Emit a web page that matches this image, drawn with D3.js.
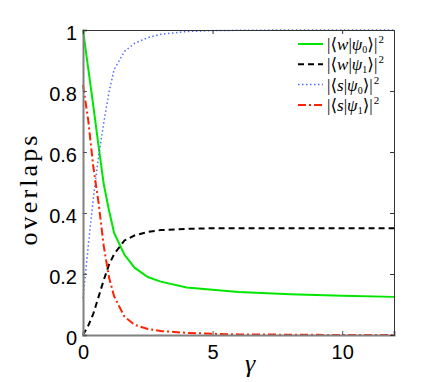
<!DOCTYPE html>
<html>
<head>
<meta charset="utf-8">
<script src="https://cdn.jsdelivr.net/npm/d3@7"></script>
<style>
  body { margin: 0; background: #fff; }
  svg { display: block; }
</style>
</head>
<body>
<script>
const WIDTH = 436;
const HEIGHT = 382;

// values
const gamma = [0, 0.2, 0.4, 0.6, 0.8, 1.0, 1.2, 1.6, 2.0, 2.5, 3, 4, 5, 6, 8, 10, 12];
const wPsi0 = [1, 0.875, 0.75, 0.62, 0.495, 0.41, 0.335, 0.263, 0.22, 0.19, 0.175, 0.156, 0.148, 0.141, 0.134, 0.129, 0.125];
const wPsi1 = [0, 0.03, 0.07, 0.125, 0.18, 0.23, 0.265, 0.31, 0.327, 0.338, 0.344, 0.348, 0.35, 0.35, 0.35, 0.35, 0.35];
const sPsi0 = [0.12, 0.29, 0.45, 0.585, 0.695, 0.795, 0.87, 0.93, 0.957, 0.975, 0.986, 0.995, 0.998, 0.999, 1, 1, 1];
const sPsi1 = [0.82, 0.705, 0.55, 0.434, 0.292, 0.19, 0.127, 0.06, 0.033, 0.02, 0.013, 0.007, 0.004, 0.002, 0.001, 0, 0];

const xTicks = [0, 5, 10];
const yTicks = [0, 0.2, 0.4, 0.6, 0.8, 1];

const series = [
    { bra: 'w', sub: '0', values: wPsi0, color: '#00e600', dash: null, width: 2 },
    { bra: 'w', sub: '1', values: wPsi1, color: '#000000', dash: '6,4', width: 2 },
    { bra: 's', sub: '0', values: sPsi0, color: '#4d6fff', dash: '1.5,2.5', width: 1.5 },
    { bra: 's', sub: '1', values: sPsi1, color: '#ff2200', dash: '8,3,2,3', width: 2 },
];

const margin = { left: 83, right: 42, top: 30, bottom: 47 };

const x = d3.scaleLinear().domain([0, 12]).range([margin.left, WIDTH - margin.right]);
const y = d3.scaleLinear().domain([0, 1]).range([HEIGHT - margin.bottom, margin.top]);

const svg = d3.select('body').append('svg')
    .attr('width', WIDTH)
    .attr('height', HEIGHT)
    .attr('viewBox', [0, 0, WIDTH, HEIGHT]);

// curves
const line = d3.line()
    .x((d, i) => x(gamma[i]))
    .y(d => y(d));

svg.append('g')
    .attr('fill', 'none')
    .selectAll('path')
    .data(series)
    .join('path')
        .attr('d', d => line(d.values))
        .attr('stroke', d => d.color)
        .attr('stroke-width', d => d.width)
        .attr('stroke-dasharray', d => d.dash);

// axes: inward ticks, mirrored on top / right
const tickLen = 4;
const axisFont = 'Liberation Sans, Arial, sans-serif';

const xAxisBottom = svg.append('g')
    .attr('transform', `translate(0,${y(0)})`)
    .call(d3.axisBottom(x).tickValues(xTicks).tickSize(-tickLen).tickPadding(10).tickFormat(d3.format('d')));
const yAxisLeft = svg.append('g')
    .attr('transform', `translate(${x(0)},0)`)
    .call(d3.axisLeft(y).tickValues(yTicks).tickSize(-tickLen).tickPadding(6).tickFormat(d => d === 0 || d === 1 ? d : d3.format('.1f')(d)));
const xAxisTop = svg.append('g')
    .attr('transform', `translate(0,${y(1)})`)
    .call(d3.axisTop(x).tickValues(xTicks).tickSize(-tickLen).tickFormat(''));
const yAxisRight = svg.append('g')
    .attr('transform', `translate(${x(12)},0)`)
    .call(d3.axisRight(y).tickValues(yTicks).tickSize(-tickLen).tickFormat(''));

[xAxisTop, yAxisRight].forEach(g => {
    g.select('.domain').attr('stroke', '#333').attr('stroke-width', 1);
    g.selectAll('.tick line').attr('stroke', '#333');
});
[xAxisBottom, yAxisLeft].forEach(g => {
    g.select('.domain').attr('stroke', '#808080').attr('stroke-width', 2);
    g.selectAll('.tick line').attr('stroke', '#555');
    g.selectAll('.tick text')
        .attr('font-family', axisFont)
        .attr('font-size', 20)
        .attr('fill', '#000');
});
yAxisLeft.selectAll('.tick text').attr('dy', '0.48em');
xAxisBottom.selectAll('.tick text').attr('dy', '0.72em');

// axis labels
svg.append('text')
    .attr('transform', `translate(37,${(y(0) + y(1)) / 2 + 8}) rotate(-90)`)
    .attr('text-anchor', 'middle')
    .attr('font-family', 'Liberation Serif, serif')
    .attr('font-size', 26)
    .attr('textLength', 110)
    .attr('lengthAdjust', 'spacing')
    .text('overlaps');

svg.append('text')
    .attr('x', 250)
    .attr('y', 372)
    .attr('text-anchor', 'middle')
    .attr('font-family', 'Liberation Serif, serif')
    .attr('font-style', 'italic')
    .attr('font-size', 26)
    .text('γ');

// legend
const legend = svg.append('g')
    .attr('font-family', 'Liberation Serif, DejaVu Serif, serif')
    .attr('font-size', 17);

const row = legend.selectAll('g')
    .data(series)
    .join('g')
        .attr('transform', (d, i) => `translate(0,${44 + i * 20.3})`);

row.append('line')
    .attr('x1', 298)
    .attr('x2', 323)
    .attr('stroke', d => d.color)
    .attr('stroke-width', d => d.width)
    .attr('stroke-dasharray', d => d.dash);

const label = row.append('text')
    .attr('x', 327)
    .attr('dy', '0.35em');

label.append('tspan').text('|⟨');
label.append('tspan').attr('font-style', 'italic').text(d => d.bra);
label.append('tspan').text('|');
label.append('tspan').attr('font-style', 'italic').text('ψ');
label.append('tspan').attr('font-size', 10).attr('dy', 3).text(d => d.sub);
label.append('tspan').attr('dy', -3).text('⟩|');
label.append('tspan').attr('font-size', 11).attr('dy', -7).attr('dx', 1).text('2');
</script>
</body>
</html>
